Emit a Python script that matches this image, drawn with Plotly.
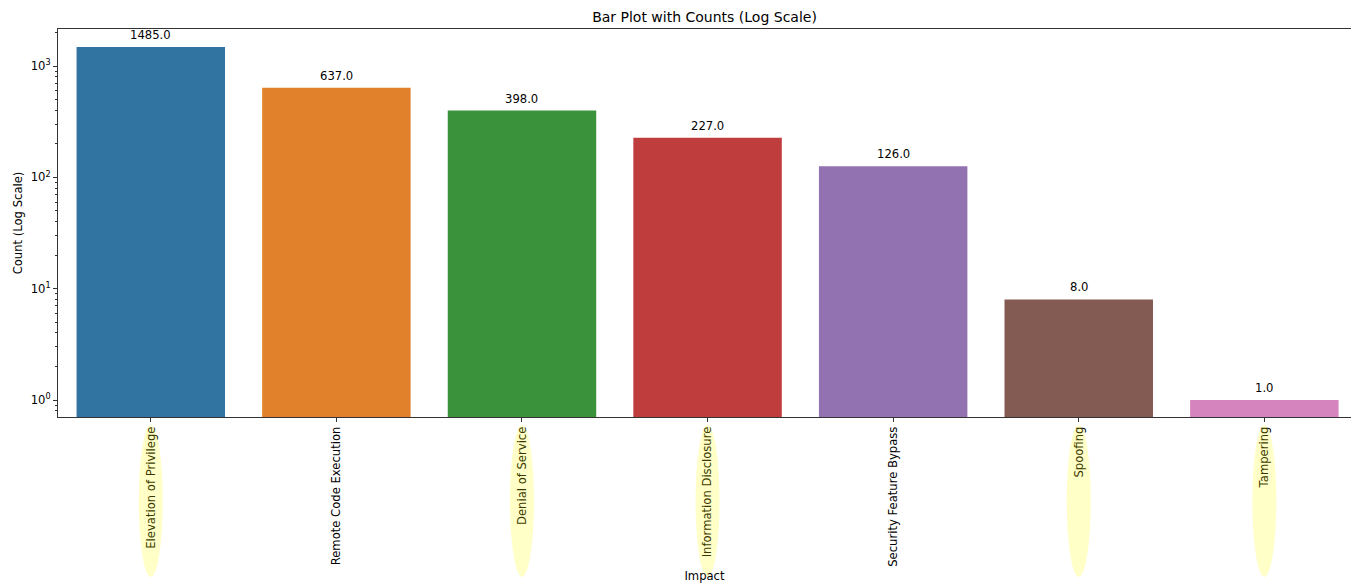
import math
import plotly.graph_objects as go

# Impact categories and their counts
categories = [
    "Elevation of Privilege",
    "Remote Code Execution",
    "Denial of Service",
    "Information Disclosure",
    "Security Feature Bypass",
    "Spoofing",
    "Tampering",
]
counts = [1485, 637, 398, 227, 126, 8, 1]
bar_colors = ["#3274a1", "#e1812c", "#3a923a", "#c03d3e", "#9372b2", "#845b53", "#d684bd"]

# Categories whose tick labels get a highlight
highlighted = ["Elevation of Privilege", "Denial of Service", "Information Disclosure",
               "Spoofing", "Tampering"]

major_vals = [1, 10, 100, 1000]
major_text = ["10<sup>0</sup>", "10<sup>1</sup>", "10<sup>2</sup>", "10<sup>3</sup>"]
minor_vals = [m * 10 ** e for e in range(-1, 4) for m in range(2, 10)]

FONT = "DejaVu Sans"
FS = 11.6
x_idx = list(range(len(categories)))

fig = go.Figure(
    go.Bar(
        x=x_idx,
        y=counts,
        marker=dict(color=bar_colors, line=dict(width=0)),
        width=0.8,
        showlegend=False,
        hoverinfo="x+y",
    )
)

# Value labels above each bar
for i, v in zip(x_idx, counts):
    fig.add_annotation(
        x=i, y=math.log10(v), xref="x", yref="y",
        text=f"{v:.1f}", showarrow=False,
        yanchor="bottom", yshift=3,
        font=dict(family=FONT, size=FS, color="#000000"),
    )

# Translucent yellow ellipses over highlighted tick labels
for name in highlighted:
    i = categories.index(name)
    fig.add_shape(
        type="circle", xref="x", yref="paper",
        xsizemode="pixel", xanchor=i, x0=-12, x1=12,
        y0=-0.412, y1=-0.021,
        fillcolor="rgba(255,255,0,0.22)", line=dict(width=0),
        layer="above",
    )

fig.update_layout(
    width=1351, height=583,
    margin=dict(l=58, r=0, t=29, b=166),
    paper_bgcolor="white", plot_bgcolor="white",
    font=dict(family=FONT, size=FS, color="#000000"),
    title=dict(
        text="Bar Plot with Counts (Log Scale)",
        x=0.5, xref="paper", y=0.971, yanchor="middle",
        font=dict(family=FONT, size=14, color="#000000"),
    ),
    bargap=0.2,
)

fig.update_xaxes(
    range=[-0.5, 6.467],
    tickmode="array", tickvals=x_idx, ticktext=categories,
    tickangle=-90,
    ticks="outside", ticklen=4, tickcolor="#333333",
    showline=True, linecolor="#333333", linewidth=1, mirror=True,
    showgrid=False, zeroline=False,
    tickfont=dict(family=FONT, size=FS, color="#000000"),
    title=dict(text="Impact", standoff=8, font=dict(family=FONT, size=FS, color="#000000")),
)

fig.update_yaxes(
    type="log",
    range=[-0.1527, 3.3324],
    tickmode="array", tickvals=major_vals, ticktext=major_text,
    ticks="outside", ticklen=4, tickcolor="#333333",
    minor=dict(tickmode="array", tickvals=minor_vals, ticks="outside",
               ticklen=2, tickcolor="#333333", showgrid=False),
    showline=True, linecolor="#333333", linewidth=1,
    showgrid=False, zeroline=False,
    tickfont=dict(family=FONT, size=FS, color="#000000"),
    title=dict(text="Count (Log Scale)", standoff=5, font=dict(family=FONT, size=FS, color="#000000")),
)

fig.write_html("out.html")
